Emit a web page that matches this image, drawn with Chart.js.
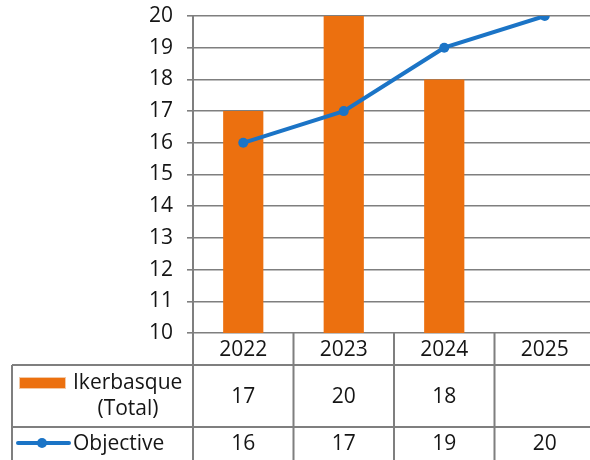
<!DOCTYPE html>
<html>
<head>
<meta charset="utf-8">
<script src="https://cdn.jsdelivr.net/npm/chart.js@4.4.1/dist/chart.umd.min.js"></script>
<style>
  html, body { margin: 0; padding: 0; background: #fff; overflow: hidden; }
  #wrap { position: absolute; left: 0; top: 0; width: 600px; height: 462px; }
</style>
</head>
<body>
<div id="wrap"><canvas id="c" width="600" height="462"></canvas></div>
<script>
// ---- data ----
const categories = ['2022', '2023', '2024', '2025'];
const ikerbasqueName = ['Ikerbasque', '(Total)'];
const objectiveName = 'Objective';
const ikerbasque = [17, 20, 18, null];
const objective = [16, 17, 19, 20];
const yMin = 10;
const yMax = 20;
const yStep = 1;

const ORANGE = '#EC700F';
const BLUE = '#1B74C6';
const GRID = '#7f7f7f';
const TEXT = '#151515';
const FONT = '"Open Sans", "DejaVu Sans", sans-serif';

const tablePlugin = {
  id: 'dataTable',
  afterDraw(chart) {
    const ctx = chart.ctx;
    const x = chart.scales.x;
    const area = chart.chartArea;
    const n = categories.length;
    const centers = categories.map((_, i) => x.getPixelForValue(i));
    const half = (centers[1] - centers[0]) / 2;
    const bounds = [area.left];
    for (let i = 0; i < n; i++) bounds.push(centers[i] + half);

    const yHeaderTop = area.bottom;
    const yRow1Top = 365;
    const yRow2Top = 427;
    const yBottom = 462;
    const tableLeft = 12;

    ctx.save();
    ctx.strokeStyle = GRID;
    ctx.lineWidth = 2;
    ctx.beginPath();
    ctx.moveTo(tableLeft, yRow1Top); ctx.lineTo(chart.width, yRow1Top);
    ctx.moveTo(tableLeft, yRow2Top); ctx.lineTo(chart.width, yRow2Top);
    ctx.moveTo(tableLeft, yRow1Top); ctx.lineTo(tableLeft, yBottom);
    bounds.forEach(b => { ctx.moveTo(b, yHeaderTop); ctx.lineTo(b, yBottom); });
    ctx.stroke();

    ctx.fillStyle = TEXT;
    ctx.font = '21px ' + FONT;
    ctx.textAlign = 'center';
    ctx.textBaseline = 'middle';
    const yHead = (yHeaderTop + yRow1Top) / 2 + 1;
    const yR1 = (yRow1Top + yRow2Top) / 2 + 1;
    const yR2 = 444;
    categories.forEach((c, i) => {
      ctx.fillText(c, centers[i], yHead);
      if (ikerbasque[i] !== null && ikerbasque[i] !== undefined) ctx.fillText(String(ikerbasque[i]), centers[i], yR1);
      if (objective[i] !== null && objective[i] !== undefined) ctx.fillText(String(objective[i]), centers[i], yR2);
    });

    // legend keys
    ctx.fillStyle = ORANGE;
    ctx.fillRect(20, 378, 45, 10);
    ctx.strokeStyle = '#f3c9a6';
    ctx.lineWidth = 1;
    ctx.strokeRect(19.5, 377.5, 46, 11);

    ctx.strokeStyle = BLUE;
    ctx.lineWidth = 4;
    ctx.lineCap = 'round';
    ctx.beginPath();
    ctx.moveTo(18, 443); ctx.lineTo(69, 443);
    ctx.stroke();
    ctx.fillStyle = BLUE;
    ctx.beginPath();
    ctx.arc(42, 443, 5, 0, Math.PI * 2);
    ctx.fill();

    ctx.fillStyle = TEXT;
    ctx.textAlign = 'left';
    ctx.fillText(ikerbasqueName[0], 73, 383);
    ctx.textAlign = 'center';
    ctx.fillText(ikerbasqueName[1], 128, 409);
    ctx.textAlign = 'left';
    ctx.fillText(objectiveName, 73, yR2);
    ctx.restore();
  }
};

new Chart(document.getElementById('c'), {
  data: {
    labels: categories,
    datasets: [
      {
        type: 'line',
        label: objectiveName,
        data: objective,
        borderColor: BLUE,
        backgroundColor: BLUE,
        borderWidth: 4,
        pointRadius: 5,
        pointBackgroundColor: BLUE,
        pointBorderWidth: 0,
        tension: 0,
        order: 0
      },
      {
        type: 'bar',
        label: ikerbasqueName.join(' '),
        data: ikerbasque,
        backgroundColor: ORANGE,
        borderWidth: 0,
        barPercentage: 0.4,
        categoryPercentage: 1.0,
        order: 1
      }
    ]
  },
  options: {
    responsive: false,
    animation: false,
    layout: { padding: { left: 0, right: 2, top: 16, bottom: 0 } },
    plugins: { legend: { display: false }, tooltip: { enabled: false } },
    scales: {
      x: {
        type: 'category',
        offset: true,
        grid: { display: false },
        border: { display: false },
        ticks: { display: false },
        afterFit(s) { s.height = 129; s.paddingLeft = 0; s.paddingRight = 0; }
      },
      y: {
        min: yMin,
        max: yMax,
        grid: { color: GRID, lineWidth: 1.6, tickLength: 6, drawTicks: true },
        border: { display: true, color: GRID, width: 2 },
        ticks: {
          stepSize: yStep,
          color: TEXT,
          font: { family: FONT, size: 21 },
          padding: 14
        },
        afterFit(s) { s.width = 193; s.paddingTop = 0; s.paddingBottom = 0; }
      }
    }
  },
  plugins: [tablePlugin]
});
</script>
</body>
</html>
